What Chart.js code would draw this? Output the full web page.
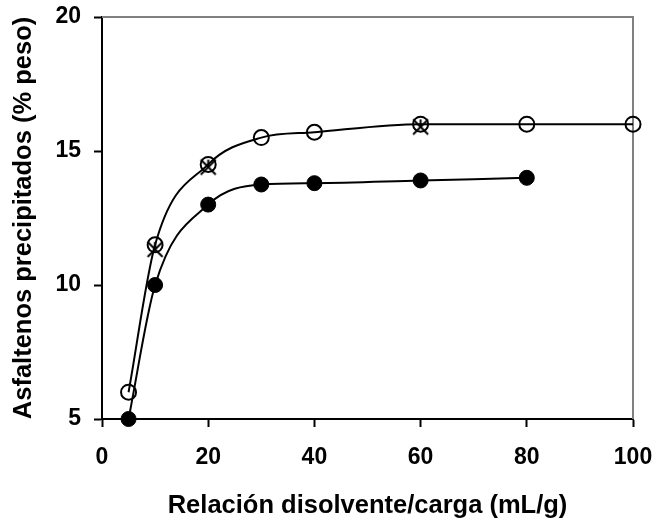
<!DOCTYPE html>
<html>
<head>
<meta charset="utf-8">
<script src="https://cdn.jsdelivr.net/npm/chart.js@4/dist/chart.umd.min.js"></script>
<style>
  html, body { margin: 0; padding: 0; background: #fff; }
  #wrap { width: 657px; height: 523px; }
</style>
</head>
<body>
<div id="wrap"><canvas id="chart" width="657" height="523"></canvas></div>
<script>
// Data
const openX = [5, 10, 20, 30, 40, 60, 80, 100];
const openY = [6, 11.5, 14.5, 15.5, 15.7, 16, 16, 16];

const starX = [10, 20, 60];
const starY = [11.33, 14.4, 15.9];

const filledX = [5, 10, 20, 30, 40, 60, 80];
const filledY = [5, 10, 13, 13.75, 13.8, 13.9, 14];

const xTicks = [0, 20, 40, 60, 80, 100];
const yTicks = [5, 10, 15, 20];

const FONT = '"Liberation Sans", Arial, sans-serif';

const toPoints = (xs, ys) => xs.map((x, i) => ({ x, y: ys[i] }));

// Excel-like star marker: an X with a vertical stroke
function starMarker(size) {
  const c = document.createElement('canvas');
  c.width = size;
  c.height = size;
  const g = c.getContext('2d');
  const m = 2;
  g.strokeStyle = '#000';
  g.lineWidth = 2;
  g.beginPath();
  g.moveTo(m, m);
  g.lineTo(size - m, size - m);
  g.moveTo(size - m, m);
  g.lineTo(m, size - m);
  g.moveTo(size / 2, m);
  g.lineTo(size / 2, size / 2);
  g.stroke();
  return c;
}

// gray top / right frame like the original
const frame = {
  id: 'frame',
  beforeDatasetsDraw(chart) {
    const { ctx, chartArea: a } = chart;
    ctx.save();
    ctx.strokeStyle = '#808080';
    ctx.lineWidth = 2;
    ctx.beginPath();
    ctx.moveTo(a.left, a.top);
    ctx.lineTo(a.right, a.top);
    ctx.lineTo(a.right, a.bottom);
    ctx.stroke();
    ctx.restore();
  },
};

new Chart(document.getElementById('chart'), {
  type: 'scatter',
  data: {
    datasets: [
      {
        label: 'open',
        data: toPoints(openX, openY),
        showLine: true,
        borderColor: '#000',
        borderWidth: 2,
        cubicInterpolationMode: 'monotone',
        pointStyle: 'circle',
        pointRadius: 7.5,
        pointBorderWidth: 2,
        pointBackgroundColor: 'rgba(0,0,0,0)',
        pointBorderColor: '#000',
        clip: false,
      },
      {
        label: 'star',
        data: toPoints(starX, starY),
        showLine: false,
        pointStyle: starMarker(19),
        pointRadius: 9,
        clip: false,
      },
      {
        label: 'filled',
        data: toPoints(filledX, filledY),
        showLine: true,
        borderColor: '#000',
        borderWidth: 2,
        cubicInterpolationMode: 'monotone',
        pointStyle: 'circle',
        pointRadius: 7.5,
        pointBorderWidth: 1,
        pointBackgroundColor: '#000',
        pointBorderColor: '#000',
        clip: false,
      },
    ],
  },
  options: {
    responsive: false,
    animation: false,
    layout: { padding: { left: 0, top: 17, right: 24, bottom: 0 } },
    plugins: { legend: { display: false }, tooltip: { enabled: false } },
    scales: {
      x: {
        type: 'linear',
        min: 0,
        max: 100,
        afterBuildTicks: (s) => { s.ticks = xTicks.map((v) => ({ value: v })); },
        afterFit: (s) => { s.height = 104; s.paddingLeft = 0; s.paddingRight = 0; },
        border: { color: '#000', width: 2 },
        grid: { drawOnChartArea: false, drawTicks: true, tickLength: 8, tickWidth: 2, tickColor: '#000' },
        ticks: { color: '#000', padding: 17, font: { family: FONT, size: 23, weight: 'bold' } },
        title: {
          display: true,
          text: 'Relación disolvente/carga (mL/g)',
          color: '#000',
          padding: { top: 10, bottom: 2 },
          font: { family: FONT, size: 25.5, weight: 'bold' },
        },
      },
      y: {
        type: 'linear',
        min: 5,
        max: 20,
        afterBuildTicks: (s) => { s.ticks = yTicks.map((v) => ({ value: v })); },
        afterFit: (s) => { s.width = 102; s.paddingTop = 0; s.paddingBottom = 0; },
        border: { color: '#000', width: 2 },
        grid: { drawOnChartArea: false, drawTicks: true, tickLength: 8, tickWidth: 2, tickColor: '#000' },
        ticks: { color: '#000', padding: 13, font: { family: FONT, size: 23, weight: 'bold' } },
        title: {
          display: true,
          text: 'Asfaltenos precipitados (% peso)',
          color: '#000',
          padding: { top: 9, bottom: 0 },
          font: { family: FONT, size: 25.5, weight: 'bold' },
        },
      },
    },
  },
  plugins: [frame],
});
</script>
</body>
</html>
